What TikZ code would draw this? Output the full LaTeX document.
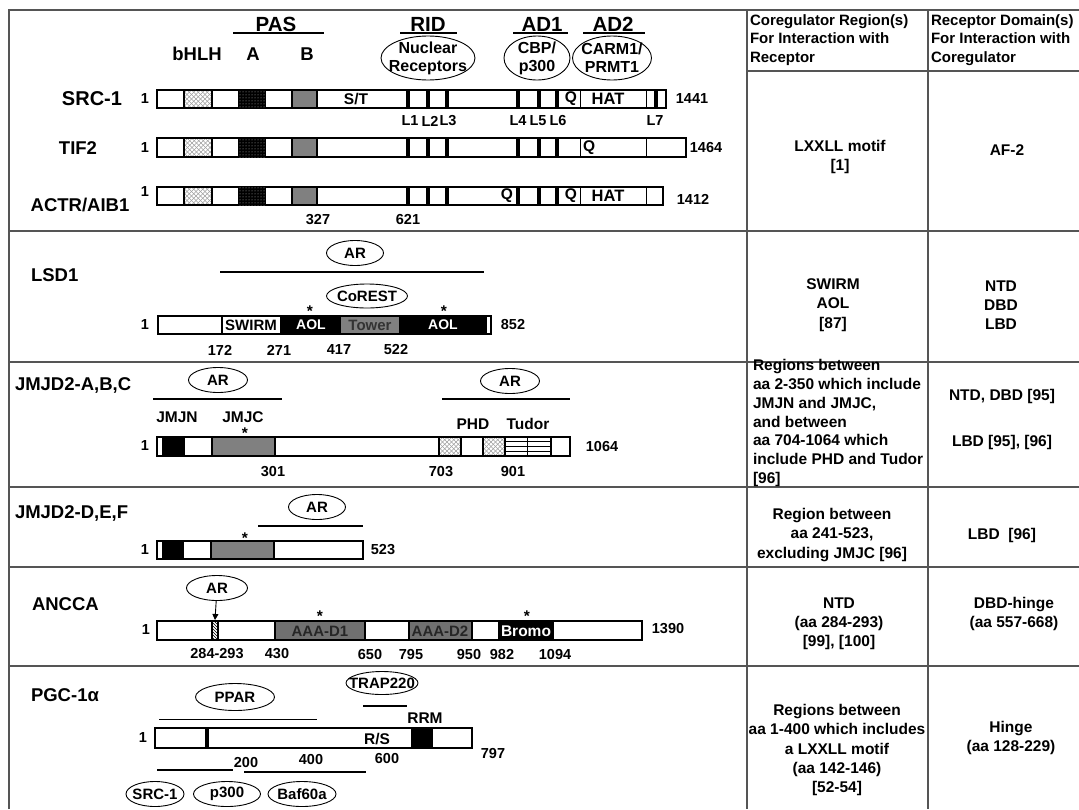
\documentclass[tikz,border=0pt]{standalone}
\usepackage{fontspec}
\setmainfont{Liberation Sans}
\usetikzlibrary{shapes.geometric,patterns,arrows.meta}
\definecolor{tcol}{HTML}{555555}
\definecolor{boxgray}{HTML}{808080}
\definecolor{dgray}{HTML}{707070}
\newcommand\ovl[6]{\node[el, minimum width=#4pt, minimum height=#5pt] (#1) at (#2,#3) {};\node[et] (#1t) at (#1) {#6};}
\newcommand\xhatch[4]{\begin{scope}\clip (#1,#2) rectangle (#3,#4);\fill[white] (#1,#2) rectangle (#3,#4);\foreach \k in {-24,-19.5,...,32}{\draw[gray!75, line width=0.6pt] (#1+\k,#2) -- (#1+\k+24,#2+24);\draw[gray!75, line width=0.6pt] (#1+\k,#4) -- (#1+\k+24,#4-24);}\end{scope}\draw[bx] (#1,#2) rectangle (#3,#4);}
\begin{document}
\begin{tikzpicture}[x=1pt,y=-1pt,
  every node/.style={inner sep=0pt,outer sep=0pt},
  nm/.style={font=\fontsize{18.5}{20}\selectfont\bfseries},
  hd/.style={font=\fontsize{20.5}{22}\selectfont\bfseries},
  sl/.style={font=\fontsize{18.5}{20}\selectfont\bfseries},
  lb/.style={font=\fontsize{15.5}{17}\selectfont\bfseries},
  nb/.style={font=\fontsize{14.5}{16}\selectfont\bfseries},
  ib/.style={font=\fontsize{14}{15}\selectfont\bfseries},
  et/.style={font=\fontsize{15}{18}\selectfont\bfseries, align=center},
  el/.style={draw, ellipse, line width=0.9pt},
  cl/.style={font=\fontsize{15.5}{19.2}\selectfont\bfseries, align=center},
  cll/.style={font=\fontsize{15.5}{18.9}\selectfont\bfseries, align=left},
  hdr/.style={font=\fontsize{15}{18.5}\selectfont\bfseries, align=left},
  bx/.style={draw=black, line width=1.1pt},
  tk/.style={line width=3.5pt},
  tn/.style={line width=1pt},
  tl/.style={draw=tcol, line width=1.4pt},
  ul/.style={line width=1.8pt},
]
\useasboundingbox (0,0) rectangle (1079,809);
\fill[white] (0,0) rectangle (1079,809);

% ---------------- table frame ----------------
\draw[tl] (9,809) -- (9,10) -- (1079,10);
\draw[tl] (747,10) -- (747,809);
\draw[tl] (928,10) -- (928,809);
\draw[tl] (747,71) -- (1079,71);
\foreach \y in {231,362,487,567,666} \draw[tl] (9,\y) -- (1079,\y);

% ---------------- header column texts ----------------
\node[hdr, anchor=west] (hc1) at (750,40) {Coregulator Region(s)\\For Interaction with\\Receptor};
\node[hdr, anchor=west] (hc2) at (931,40) {Receptor Domain(s)\\For Interaction with\\Coregulator};

% ---------------- SRC family ----------------
\node[hd] (pas) at (276,24) {PAS}; \draw[ul] (233,33) -- (324,33);
\node[hd] (rid) at (428,24) {RID}; \draw[ul] (400,33) -- (457,33);
\node[hd] (ad1) at (542,24) {AD1}; \draw[ul] (513,33) -- (568,33);
\node[hd] (ad2) at (613,24) {AD2}; \draw[ul] (583,33) -- (645,33);
\node[sl] (bhlh) at (197,54) {bHLH};
\node[sl] (pa) at (253,54) {A};
\node[sl] (pb) at (307,54) {B};
\ovl{nr}{428}{58}{94}{44}{\fontsize{16}{19}\selectfont Nuclear\\\fontsize{16}{19}\selectfont Receptors}
\ovl{cbp}{537}{58}{66}{44}{\fontsize{16}{19}\selectfont CBP/\\\fontsize{16}{19}\selectfont p300}
\ovl{carm}{612}{58}{79}{44}{\fontsize{16}{19}\selectfont CARM1/\\\fontsize{16}{19}\selectfont PRMT1}

\foreach \ya/\yb/\xe in {90/108/666,138/157/686,187/205/663}{
  \draw[bx, fill=white] (157,\ya) rectangle (\xe,\yb);
  \xhatch{184}{\ya}{212}{\yb}
  \draw[bx, fill=black, postaction={pattern=dots, pattern color=gray!60}] (239,\ya) rectangle (265,\yb);
  \draw[bx, fill=boxgray] (292,\ya) rectangle (317,\yb);
  \foreach \x in {408,428,447,518,539,557} \draw[tk] (\x,\ya) -- (\x,\yb);
  \draw[tn] (580,\ya) -- (580,\yb);
  \draw[tn] (646,\ya) -- (646,\yb);
}
\draw[tk] (656,90) -- (656,108);

\node[nm, font=\fontsize{20}{22}\selectfont\bfseries] (src1) at (92,99) {SRC-1};
\node[nm] (tif2) at (78,148) {TIF2};
\node[nm] (actr) at (80,205) {ACTR/AIB1};
\node[nb] (s1) at (145,99) {1};
\node[nb] (t1) at (145,148) {1};
\node[nb] (a1) at (145,192) {1};
\node[nb] (s2) at (692,99) {1441};
\node[nb] (t2) at (706,148) {1464};
\node[nb] (a2) at (693,199) {1412};
\node[lb] (st) at (356,99) {S/T};
\node[lb] (sq) at (571,99) {Q};
\node[hd, font=\fontsize{16.5}{18}\selectfont\bfseries] (shat) at (608,99) {HAT};
\node[lb, anchor=west] (tq) at (583,148) {Q};
\node[lb] (aq1) at (507,196) {Q};
\node[lb] (aq2) at (571,196) {Q};
\node[hd, font=\fontsize{16.5}{18}\selectfont\bfseries] (ahat) at (608,196) {HAT};
\foreach \t/\x in {L1/410,L2/430,L3/448,L4/518,L5/538,L6/558,L7/655}
  \node[nb] (lab\t) at (\x,121) {\t};
\node[nb] (n327) at (318,220) {327};
\node[nb] (n621) at (408,220) {621};

\node[cl] (c1a) at (840,157) {LXXLL motif\\{[1]}};
\node[cl] (c1b) at (1007,150) {AF-2};

% ---------------- LSD1 ----------------
\node[nm, anchor=west] (lsd1) at (31,275) {LSD1};
\ovl{arL}{355}{253}{57}{25}{AR}
\draw[ul] (220,272) -- (484,272);
\ovl{corest}{367}{296}{81}{24}{CoREST}
\node[lb] (stL1) at (310,311) {*};
\node[lb] (stL2) at (444,311) {*};
\draw[bx, fill=white] (158,316) rectangle (491,334);
\fill[black] (281,316) rectangle (341,334);
\fill[boxgray] (341,316) rectangle (399,334);
\fill[black] (399,316) rectangle (487,334);
\draw[bx] (222,316) rectangle (281,334);
\draw[bx] (158,316) rectangle (491,334);
\node[ib, font=\fontsize{15}{16}\selectfont\bfseries] (swirm) at (251,325) {SWIRM};
\node[ib, text=white] (aol1) at (311,325) {AOL};
\node[ib, font=\fontsize{15}{16}\selectfont\bfseries, text=black!80] (tower) at (370,325) {Tower};
\node[ib, text=white] (aol2) at (443,325) {AOL};
\node[nb] (l1) at (145,325) {1};
\node[nb] (l852) at (513,325) {852};
\foreach \t/\x in {172/220,271/279,417/339,522/396}
  \node[nb] (lsdn\t) at (\x,350) {\t};
\node[cl] (c2a) at (833,305) {SWIRM\\AOL\\{[87]}};
\node[cl] (c2b) at (1001,305) {NTD\\DBD\\LBD};

% ---------------- JMJD2-A,B,C ----------------
\node[nm, anchor=west] (jabc) at (15,385) {JMJD2-A,B,C};
\ovl{arJ1}{218}{380}{59}{25}{AR}
\ovl{arJ2}{510}{381}{59}{25}{AR}
\draw[ul] (153,399) -- (282,399);
\draw[ul] (442,399) -- (570,399);
\node[lb] (jmjn) at (177,417) {JMJN};
\node[lb] (jmjc) at (243,417) {JMJC};
\node[lb] (stJ1) at (245,433) {*};
\node[lb] (phd) at (473,424) {PHD};
\node[lb] (tudor) at (528,424) {Tudor};
\draw[bx, fill=white] (157,437) rectangle (570,456);
\draw[bx, fill=black] (163,437) rectangle (184,456);
\draw[bx, fill=boxgray] (212,437) rectangle (275,456);
\xhatch{439}{437}{461}{456}
\xhatch{483}{437}{505}{456}
\draw[bx] (505,437) rectangle (551,456);
\draw[tn] (527,437) -- (527,456);
\foreach \y in {441.5,446.5,451.5} \draw[tn] (505,\y) -- (551,\y);
\node[nb] (j1) at (145,446) {1};
\node[nb] (j1064) at (602,447) {1064};
\node[nb] (j301) at (273,472) {301};
\node[nb] (j703) at (441,472) {703};
\node[nb] (j901) at (513,472) {901};
\node[cll, anchor=west] (c3a) at (753,423) {Regions between\\aa 2-350 which include\\JMJN and JMJC,\\and between\\aa 704-1064 which\\include PHD and Tudor\\{[96]}};
\node[cl] (c3b) at (1002,396) {NTD, DBD [95]};
\node[cl] (c3c) at (1002,442) {LBD [95], [96]};

% ---------------- JMJD2-D,E,F ----------------
\node[nm, anchor=west] (jdef) at (15,513) {JMJD2-D,E,F};
\ovl{arJ3}{317}{507}{57}{25}{AR}
\draw[ul] (258,526) -- (363,526);
\node[lb] (stJ2) at (245,538) {*};
\draw[bx, fill=white] (157,541) rectangle (363,559);
\draw[bx, fill=black] (163,541) rectangle (183,559);
\draw[bx, fill=boxgray] (211,541) rectangle (274,559);
\node[nb] (d1) at (145,550) {1};
\node[nb] (d523) at (383,550) {523};
\node[cl] (c4a) at (832,535) {Region between\\aa 241-523,\\excluding JMJC [96]};
\node[cl] (c4b) at (1002,535) {LBD\ \ [96]};

% ---------------- ANCCA ----------------
\node[nm, anchor=west] (ancca) at (32,604) {ANCCA};
\ovl{arA}{217}{588}{61}{25}{AR}
\node[lb] (stA1) at (320,616) {*};
\node[lb] (stA2) at (527,616) {*};
\draw[bx, fill=white] (157,621) rectangle (642,640);
\draw[bx, pattern=north west lines] (212,621) rectangle (218,640);
\draw[bx, fill=dgray] (275,621) rectangle (365,640);
\draw[bx, fill=dgray] (409,621) rectangle (472,640);
\draw[bx, fill=black] (499,621) rectangle (553,640);
\coordinate (hatchtop) at (215,620);
\draw[line width=0.9pt, -{Triangle[length=6pt,width=6pt]}] (arA) -- (hatchtop);
\node[ib, font=\fontsize{15}{16}\selectfont\bfseries, text=black!85] (aaa1) at (320,631) {AAA-D1};
\node[ib, font=\fontsize{15}{16}\selectfont\bfseries, text=black!85] (aaa2) at (440,631) {AAA-D2};
\node[lb, text=white] (bromo) at (526,631) {Bromo};
\node[nb] (an1) at (146,630) {1};
\node[nb] (an1390) at (668,629) {1390};
\foreach \t/\x in {284-293/217,430/277,650/370,795/411,950/469,982/502,1094/555}
  \node[nb] (ann\t) at (\x,654) {\t};
\node[cl] (c5a) at (839,624) {NTD\\(aa 284-293)\\{[99], [100]}};
\node[cl] (c5b) at (1014,614) {DBD-hinge\\(aa 557-668)};

% ---------------- PGC-1alpha ----------------
\node[nm, anchor=west] (pgc) at (31,695) {PGC-1α};
\ovl{trap}{382}{683}{72}{23}{TRAP220}
\draw[ul] (363,706) -- (407,706);
\ovl{ppar}{235}{697}{79}{27}{PPAR}
\draw[tn] (159,719) -- (317,719);
\node[lb] (rrm) at (425,718) {RRM};
\draw[bx, fill=white] (155,728) rectangle (472,748);
\draw[tk] (207,728) -- (207,748);
\draw[bx, fill=black] (412,728) rectangle (432,748);
\node[lb] (rs) at (377,739) {R/S};
\node[nb] (p1) at (143,738) {1};
\node[nb] (p797) at (493,753) {797};
\node[nb] (p200) at (246,762) {200};
\node[nb] (p400) at (311,759) {400};
\node[nb] (p600) at (387,758) {600};
\draw[ul] (157,770) -- (233,770);
\draw[ul] (244,772) -- (366,772);
\ovl{srcE}{155}{794}{58}{25}{SRC-1}
\ovl{p300}{227}{794}{67}{25}{p300}
\ovl{baf}{302}{794}{68}{25}{Baf60a}
\node[cl] (c6a) at (837,750) {Regions between\\aa 1-400 which includes\\a LXXLL motif\\(aa 142-146)\\{[52-54]}};
\node[cl] (c6b) at (1011,738) {Hinge\\(aa 128-229)};
\end{tikzpicture}
\end{document}
